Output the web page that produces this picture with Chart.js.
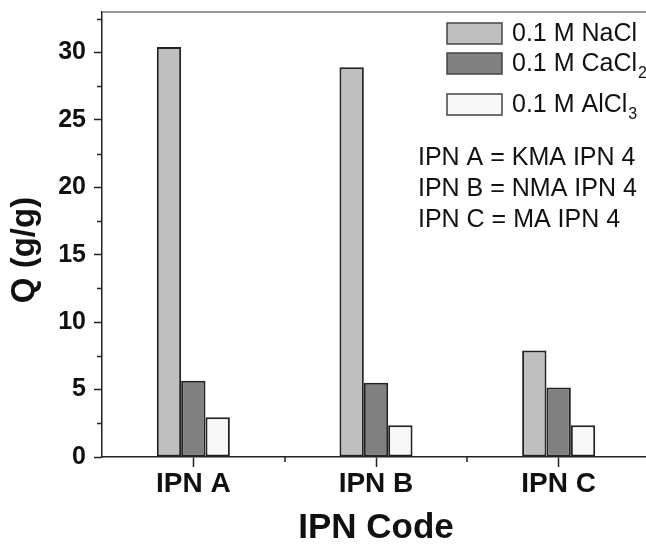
<!DOCTYPE html>
<html>
<head>
<meta charset="utf-8">
<script src="https://cdn.jsdelivr.net/npm/chart.js@4.4.1/dist/chart.umd.min.js"></script>
<style>
  html, body { margin: 0; padding: 0; background: #fff; overflow: hidden; }
  #wrap { width: 652px; height: 546px; }
</style>
</head>
<body>
<div id="wrap"><canvas id="bar-chart" width="652" height="546"></canvas></div>
<script>
const categories = ['IPN A', 'IPN B', 'IPN C'];
const seriesNames = ['0.1 M NaCl', '0.1 M CaCl₂', '0.1 M AlCl₃'];
const naclValues = [30.4, 28.9, 7.9];
const cacl2Values = [5.65, 5.5, 5.15];
const alcl3Values = [2.95, 2.35, 2.35];
const yTicks = [0, 5, 10, 15, 20, 25, 30];
const notes = ['IPN A = KMA IPN 4', 'IPN B = NMA IPN 4', 'IPN C = MA IPN 4'];
const yTitle = 'Q (g/g)';

const FONT = "'Liberation Sans', Arial, sans-serif";
const fills = ['#bfbfbf', '#808080', '#f8f8f8'];
const SUBS = '₀₁₂₃₄₅₆₇₈₉';

// minor ticks + top frame line
const framePlugin = {
	id: 'frame',
	afterDraw(chart) {
		const ctx = chart.ctx;
		const area = chart.chartArea;
		const y = chart.scales.y;
		const x = chart.scales.x;
		ctx.save();
		ctx.strokeStyle = '#777';
		ctx.lineWidth = 1.5;
		ctx.beginPath();
		ctx.moveTo(area.left, area.top);
		ctx.lineTo(area.right + 10, area.top);
		ctx.stroke();

		ctx.strokeStyle = '#222';
		ctx.lineWidth = 1.5;
		ctx.beginPath();
		for (let v = 2.5; v < y.max; v += 5) {
			const py = Math.round(y.getPixelForValue(v)) + 0.5;
			ctx.moveTo(area.left, py);
			ctx.lineTo(area.left - 5, py);
		}
		for (let i = 0; i < categories.length; i++) {
			const px = Math.round(x.getPixelForValue(i) + (x.getPixelForValue(1) - x.getPixelForValue(0)) / 2);
			ctx.moveTo(px, area.bottom);
			ctx.lineTo(px, area.bottom + 5);
		}
		ctx.stroke();

		// y axis title, placed like the original (a bit below the axis centre)
		ctx.translate(25, 250);
		ctx.rotate(-Math.PI / 2);
		ctx.font = 'bold 33px ' + FONT;
		ctx.fillStyle = '#111';
		ctx.textAlign = 'center';
		ctx.textBaseline = 'middle';
		ctx.fillText(yTitle, 0, 0);
		ctx.restore();
	}
};

function drawWithSubs(ctx, text, x, y, size) {
	let cx = x;
	for (const ch of text) {
		const si = SUBS.indexOf(ch);
		if (si >= 0) {
			ctx.font = Math.round(size * 0.62) + 'px ' + FONT;
			ctx.fillText(String(si), cx + 1, y + size * 0.4);
			cx += ctx.measureText(String(si)).width + 1;
		} else {
			ctx.font = size + 'px ' + FONT;
			ctx.fillText(ch, cx, y);
			cx += ctx.measureText(ch).width;
		}
	}
}

const legendPlugin = {
	id: 'boxLegend',
	afterDraw(chart) {
		const ctx = chart.ctx;
		const rows = [33, 63, 104];
		ctx.save();
		ctx.textBaseline = 'middle';
		chart.data.datasets.forEach((ds, i) => {
			ctx.fillStyle = ds.backgroundColor;
			ctx.strokeStyle = '#444';
			ctx.lineWidth = 1.5;
			ctx.fillRect(447, rows[i] - 10, 55, 21);
			ctx.strokeRect(447, rows[i] - 10, 55, 21);
			ctx.fillStyle = '#111';
			drawWithSubs(ctx, ds.label, 512, rows[i] + 1, 25);
		});
		ctx.font = '25px ' + FONT;
		ctx.fillStyle = '#111';
		notes.forEach((t, i) => ctx.fillText(t, 418, 158 + i * 31));
		ctx.restore();
	}
};

const ctx = document.getElementById('bar-chart');
const myChart = new Chart(ctx, {
	type: 'bar',
	data: {
		labels: categories,
		datasets: [naclValues, cacl2Values, alcl3Values].map((vals, i) => ({
			label: seriesNames[i],
			data: vals,
			backgroundColor: fills[i],
			borderColor: '#222',
			borderWidth: 2,
			borderSkipped: false,
			categoryPercentage: 0.4,
			barPercentage: 1.0,
		}))
	},
	options: {
		responsive: false,
		animation: false,
		layout: { padding: { top: 12, right: 2, left: 0, bottom: 0 } },
		plugins: {
			legend: { display: false },
			tooltip: { enabled: false },
		},
		scales: {
			x: {
				afterFit(scale) {
					scale.height = 89;
					scale.paddingLeft = 0;
					scale.paddingRight = 0;
				},
				grid: {
					offset: false,
					drawOnChartArea: false,
					drawTicks: true,
					tickLength: 10,
					tickWidth: 1.5,
					tickColor: '#222',
				},
				border: { display: true, color: '#222', width: 1.5 },
				ticks: {
					color: '#111',
					padding: 0,
					font: { family: FONT, size: 28, weight: 'bold' },
				},
				title: {
					display: true,
					text: 'IPN Code',
					color: '#111',
					padding: { top: -8, bottom: 0 },
					font: { family: FONT, size: 35, weight: 'bold', lineHeight: 1 },
				},
			},
			y: {
				min: 0,
				max: 33,
				afterFit(scale) {
					scale.width = 102;
					scale.paddingTop = 0;
					scale.paddingBottom = 0;
				},
				afterBuildTicks(scale) { scale.ticks = yTicks.map(v => ({ value: v })); },
				grid: {
					drawOnChartArea: false,
					drawTicks: true,
					tickLength: 8,
					tickWidth: 1.5,
					tickColor: '#222',
				},
				border: { display: true, color: '#222', width: 1.5 },
				ticks: {
					color: '#111',
					padding: 8,
					font: { family: FONT, size: 25, weight: 'bold' },
				},
			}
		}
	},
	plugins: [framePlugin, legendPlugin]
});
</script>
</body>
</html>
